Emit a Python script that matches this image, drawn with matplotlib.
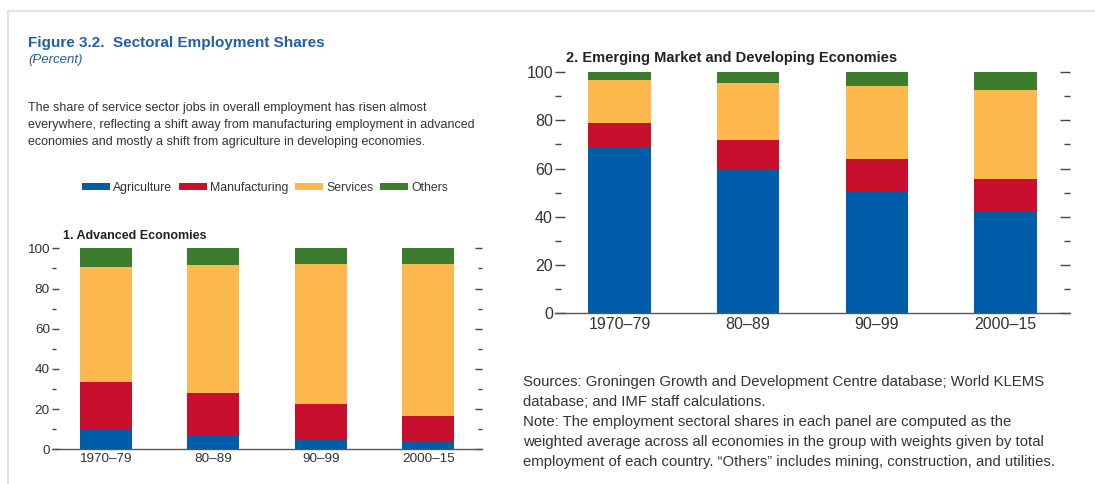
import numpy as np
import matplotlib
matplotlib.use("Agg")
import matplotlib.pyplot as plt
from matplotlib.lines import Line2D
from matplotlib.ticker import MultipleLocator

plt.rcParams['font.family'] = ['Liberation Sans Narrow', 'Liberation Sans', 'DejaVu Sans']

periods = ['1970\u201379', '80\u201389', '90\u201399', '2000\u201315']
sectors = ['Agriculture', 'Manufacturing', 'Services', 'Others']
colors = ['#005daa', '#c8102e', '#fdb94e', '#3b7d2c']

# panel 1: advanced economies
adv_agri = [10.0, 7.1, 5.0, 3.8]
adv_manu = [23.7, 20.8, 17.6, 12.9]
adv_serv = [56.8, 63.6, 69.4, 75.7]
adv_oth = [9.5, 8.5, 8.0, 7.6]

# panel 2: emerging market and developing economies
emd_agri = [68.3, 59.3, 50.6, 42.0]
emd_manu = [10.5, 12.7, 13.4, 13.7]
emd_serv = [17.9, 23.4, 30.0, 36.8]
emd_oth = [3.3, 4.6, 6.0, 7.5]

W, H = 1095, 484
fig = plt.figure(figsize=(W / 100, H / 100), dpi=100)
fig.patch.set_facecolor('white')

txt = '#333333'
blue = '#1f5fa8'


def fx(px):
    return px / W


def fy(py):
    return 1 - py / H


def panel(rect, series, title, fs, tfs, tick_major, tick_minor):
    ax = fig.add_axes(rect)
    x = np.arange(len(periods))
    bottom = np.zeros(len(periods))
    bars = []
    for vals, c, name in zip(series, colors, sectors):
        b = ax.bar(x, vals, 0.485, bottom=bottom, color=c, label=name, linewidth=0)
        bars.append(b)
        bottom += np.array(vals)
    ax.set_xlim(-0.5, 3.5)
    ax.set_ylim(0, 100)
    ax.set_xticks(x)
    ax.set_xticklabels(periods, fontsize=fs, color=txt)
    ax.yaxis.set_major_locator(MultipleLocator(20))
    ax.yaxis.set_minor_locator(MultipleLocator(10))
    ax.tick_params(axis='y', which='both', direction='in', left=True, right=True,
                   colors='#444444', labelcolor=txt, labelsize=fs, pad=1.5)
    ax.tick_params(axis='y', which='major', length=tick_major, width=1)
    ax.tick_params(axis='y', which='minor', length=tick_minor, width=1)
    ax.tick_params(axis='x', length=0, pad=3)
    for s in ['left', 'right', 'top']:
        ax.spines[s].set_visible(False)
    ax.spines['bottom'].set_color('#555555')
    ax.spines['bottom'].set_linewidth(1.0)
    ax.text(0.0, 1.04, title, transform=ax.transAxes, fontsize=tfs, fontweight='bold',
            color='#222222', ha='left', va='center')
    return ax, bars


ax1, bars1 = panel([fx(52), fy(449.3), fx(430), (449.3 - 248.3) / H],
                   [adv_agri, adv_manu, adv_serv, adv_oth],
                   '1. Advanced Economies', 9.7, 9, 5, 3)
ax1.texts[0].set_position((0.025, 1.06))

ax2, bars2 = panel([fx(555), fy(313.3), fx(515), (313.3 - 72) / H],
                   [emd_agri, emd_manu, emd_serv, emd_oth],
                   '2. Emerging Market and Developing Economies', 11.5, 10.5, 7, 4)
ax2.texts[0].set_position((0.022, 1.06))

# header texts
fig.text(fx(28), fy(43), 'Figure 3.2.  Sectoral Employment Shares', fontsize=11,
         fontweight='bold', color=blue, ha='left', va='center')
fig.text(fx(28), fy(60), '(Percent)', fontsize=9.5, style='italic', color=blue,
         ha='left', va='center')
para = ['The share of service sector jobs in overall employment has risen almost',
        'everywhere, reflecting a shift away from manufacturing employment in advanced',
        'economies and mostly a shift from agriculture in developing economies.']
for i, line in enumerate(para):
    fig.text(fx(28), fy(108 + 17 * i), line, fontsize=9, color=txt, ha='left', va='center')

fig.legend([b[0] for b in bars1], sectors, loc='center', ncol=4, frameon=False,
           bbox_to_anchor=(fx(265), fy(188)), fontsize=8.8, handlelength=2.3,
           handleheight=0.45, handletextpad=0.25, columnspacing=0.55, labelcolor=txt)

notes = ['Sources: Groningen Growth and Development Centre database; World KLEMS',
         'database; and IMF staff calculations.',
         'Note: The employment sectoral shares in each panel are computed as the',
         'weighted average across all economies in the group with weights given by total',
         'employment of each country. \u201cOthers\u201d includes mining, construction, and utilities.']
for i, line in enumerate(notes):
    fig.text(fx(523), fy(382 + 20 * i), line, fontsize=10.7, color=txt, ha='left', va='center')

# light frame
fig.add_artist(Line2D([fx(8), 1], [fy(11), fy(11)], color='#dddddd', lw=1.2))
fig.add_artist(Line2D([fx(8), fx(8)], [0, fy(11)], color='#dddddd', lw=1.2))

fig.savefig('out.png', dpi=100)
